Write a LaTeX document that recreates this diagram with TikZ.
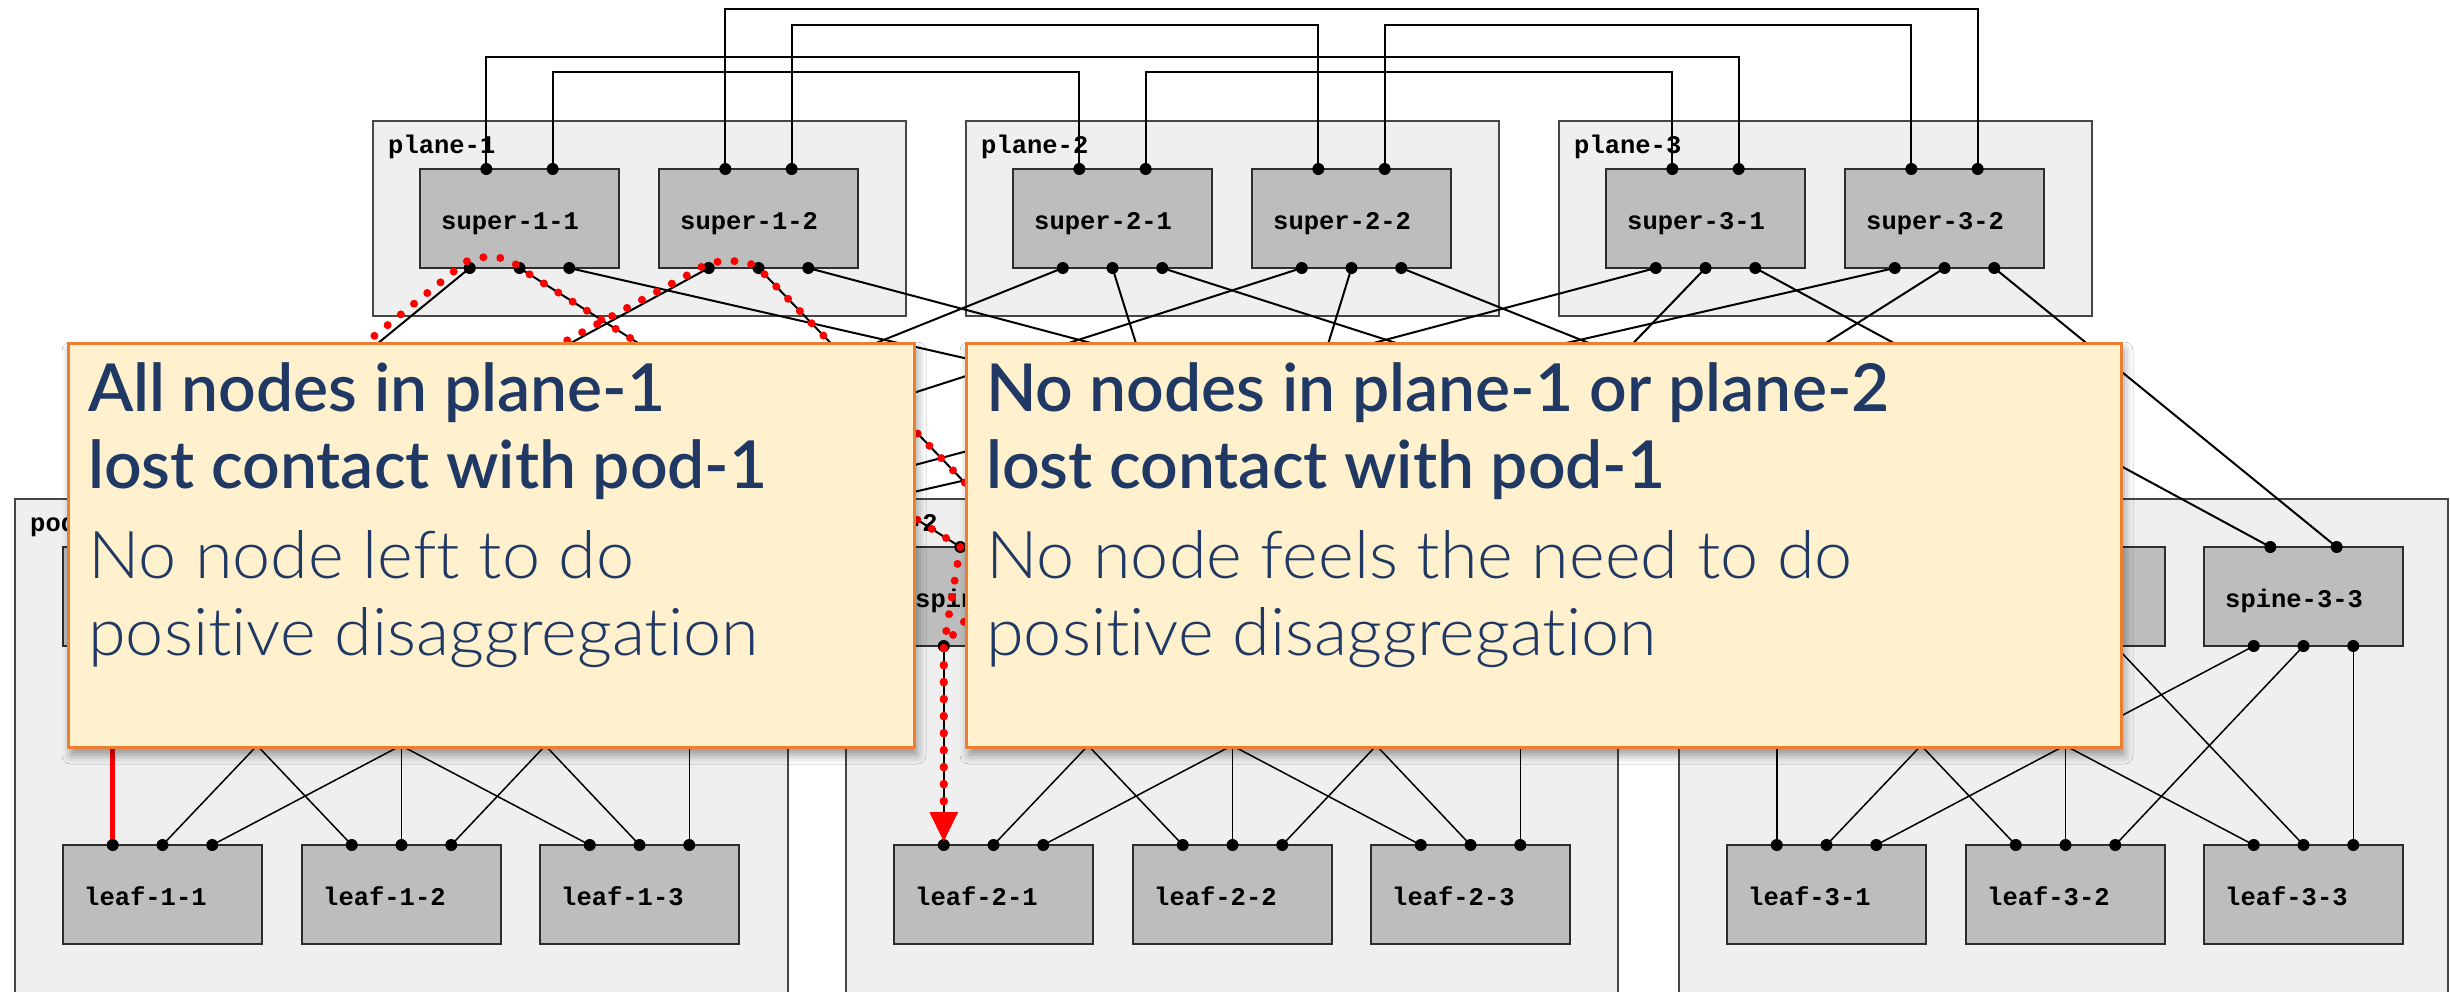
\documentclass[tikz,border=0pt]{standalone}
\usepackage{fontspec}
\setmonofont{Liberation Mono}
\newfontfamily\noteheadfont[Ligatures=NoCommon]{Lato Semibold}
\newfontfamily\notebodyfont[Ligatures=NoCommon,FakeStretch=1.035]{Lato Light}
\usetikzlibrary{calc,arrows.meta,shadows.blur}

\definecolor{boxgray}{RGB}{189,189,189}
\definecolor{areagray}{RGB}{239,239,239}
\definecolor{areaedge}{RGB}{70,70,70}
\definecolor{devedge}{RGB}{45,45,45}
\definecolor{notefill}{RGB}{255,241,206}
\definecolor{noteedge}{RGB}{237,125,49}
\definecolor{notetext}{RGB}{31,56,100}
\definecolor{pathred}{RGB}{255,0,0}

\tikzset{
  area/.style={draw=areaedge, line width=2pt, fill=areagray, anchor=north west,
    inner sep=0pt, outer sep=0pt},
  arealabel/.style={anchor=base west, inner sep=0pt,
    font=\ttfamily\bfseries\fontsize{25.5}{30}\selectfont},
  device/.style={draw=devedge, line width=2pt, fill=boxgray, anchor=north west,
    minimum width=199pt, minimum height=99pt, inner sep=0pt, outer sep=0pt},
  devlabel/.style={arealabel},
  port/.style={fill=black},
  toplink/.style={draw=black, line width=1.8pt},
  uplink/.style={draw=black, line width=2pt},
  podlink/.style={draw=black, line width=1.5pt},
  brokenlink/.style={draw=pathred, line width=5pt},
  reroute/.style={draw=pathred, line width=8pt, line cap=round,
    dash pattern=on 0pt off 17pt},
  note/.style={draw=noteedge, line width=3pt, fill=notefill, anchor=north west,
    inner sep=0pt, outer sep=0pt,
    blur shadow={shadow xshift=3pt, shadow yshift=-8pt,
      shadow blur radius=9pt, shadow opacity=40}},
  notehead/.style={anchor=base west, inner sep=0pt, text=notetext,
    font=\noteheadfont\fontsize{66}{80}\selectfont},
  notebody/.style={anchor=base west, inner sep=0pt, text=notetext,
    font=\notebodyfont\fontsize{66}{78}\selectfont},
}

% label of a device, only when one is given
\newcommand{\devtag}[2]{%
  \if\relax\detokenize{#2}\relax\else
    \node[devlabel] at ($(#1.west)+(21,11)$) {#2};
  \fi}
% label in the top left corner of a plane or pod, only when one is given
\newcommand{\cornertag}[2]{%
  \if\relax\detokenize{#2}\relax\else
    \node[arealabel] at ($(#1.north west)+(15,32)$) {#2};
  \fi}
% switch with two ports on top and three at the bottom (super, spine)
\newcommand{\twoupdev}[4]{%
  \node[device] (#1) at (#2,#3) {};
  \devtag{#1}{#4}%
  \coordinate (#1-t1) at ($(#1.north west)!1/3!(#1.north east)$);
  \coordinate (#1-t2) at ($(#1.north west)!2/3!(#1.north east)$);
  \coordinate (#1-b1) at ($(#1.south west)!0.25!(#1.south east)$);
  \coordinate (#1-b2) at ($(#1.south west)!0.5!(#1.south east)$);
  \coordinate (#1-b3) at ($(#1.south west)!0.75!(#1.south east)$);
}
% leaf switch with three ports on top
\newcommand{\leafdev}[4]{%
  \node[device] (#1) at (#2,#3) {};
  \devtag{#1}{#4}%
  \coordinate (#1-t1) at ($(#1.north west)!0.25!(#1.north east)$);
  \coordinate (#1-t2) at ($(#1.north west)!0.5!(#1.north east)$);
  \coordinate (#1-t3) at ($(#1.north west)!0.75!(#1.north east)$);
}

\begin{document}
\begin{tikzpicture}[x=1pt,y=-1pt]
\useasboundingbox (0,0) rectangle (2450,991);
\fill[white] (0,0) rectangle (2450,991);

% planes with their super spines
\foreach \i/\pl in {1/373,2/966,3/1559}{
  \node[area, minimum width=533pt, minimum height=195pt] (plane\i) at (\pl,121) {};
  \cornertag{plane\i}{plane-\i}
  \twoupdev{s\i1}{\pl+47}{169}{super-\i-1}
  \twoupdev{s\i2}{\pl+286}{169}{super-\i-2}
}

% pods with spines and leaves (labels behind the call-outs are left out)
\foreach \x/\pl/\w/\pname/\la/\lb/\lc in
    {1/15/773/pod-1///, 2/846/772/pod-2/spine-2-1//, 3/1679/769////spine-3-3}{
  \node[area, minimum width=\w pt, minimum height=520pt] (pod\x) at (\pl,499) {};
  \cornertag{pod\x}{\pname}
  \twoupdev{sp\x1}{\pl+48}{547}{\la}
  \twoupdev{sp\x2}{\pl+287}{547}{\lb}
  \twoupdev{sp\x3}{\pl+525}{547}{\lc}
  \leafdev{l\x1}{\pl+48}{845}{leaf-\x-1}
  \leafdev{l\x2}{\pl+287}{845}{leaf-\x-2}
  \leafdev{l\x3}{\pl+525}{845}{leaf-\x-3}
}

% east-west links between the planes
\coordinate (ya) at (0,9);
\coordinate (yb) at (0,25);
\coordinate (yc) at (0,57);
\coordinate (yd) at (0,72);
\draw[toplink] (s11-t1) -- (s11-t1 |- yc) -- (s31-t2 |- yc) -- (s31-t2);
\draw[toplink] (s11-t2) -- (s11-t2 |- yd) -- (s21-t1 |- yd) -- (s21-t1);
\draw[toplink] (s12-t1) -- (s12-t1 |- ya) -- (s32-t2 |- ya) -- (s32-t2);
\draw[toplink] (s12-t2) -- (s12-t2 |- yb) -- (s22-t1 |- yb) -- (s22-t1);
\draw[toplink] (s21-t2) -- (s21-t2 |- yd) -- (s31-t1 |- yd) -- (s31-t1);
\draw[toplink] (s22-t2) -- (s22-t2 |- yb) -- (s32-t1 |- yb) -- (s32-t1);

% super spine to spine links
\foreach \i in {1,2,3}{
  \foreach \k in {1,2}{
    \foreach \x in {1,2,3}{
      \draw[uplink] (s\i\k-b\x) -- (sp\x\i-t\k);
    }
  }
}

% spine to leaf links inside each pod
\foreach \x in {1,2,3}{
  \foreach \i in {1,2,3}{
    \foreach \j in {1,2,3}{
      \draw[podlink] (sp\x\i-b\j) -- (l\x\j-t\i);
    }
  }
}

% failed link
\draw[brokenlink] (sp11-b1) -- (l11-t1);

% ports
\foreach \i in {1,2,3}{
  \foreach \k in {1,2}{
    \foreach \p in {t1,t2,b1,b2,b3}{\fill[port] (s\i\k-\p) circle[radius=6pt];}
  }
}
\foreach \x in {1,2,3}{
  \foreach \i in {1,2,3}{
    \foreach \p in {t1,t2,b1,b2,b3}{\fill[port] (sp\x\i-\p) circle[radius=6pt];}
    \foreach \p in {t1,t2,t3}{\fill[port] (l\x\i-\p) circle[radius=6pt];}
  }
}

% rerouted traffic through plane-1 and pod-2
\coordinate (ra0) at ($(sp11-t1)+(-6,-8)$);
\coordinate (ra1) at ($(s11-b1)+(-14,2)$);
\coordinate (ra2) at ($(s11-b1)+(-4,-14)$);
\coordinate (ra3) at ($(s11-b2)+(-12,-16)$);
\draw[reroute, -{Triangle[width=26pt,length=30pt]}, shorten >=3pt]
  (ra0) -- (ra1) .. controls (ra2) and (ra3) .. (s11-b2)
  -- (sp21-t1) -- (sp21-b1) -- (l21-t1);

\coordinate (rb0) at ($(sp11-t2)+(-2,-4)$);
\coordinate (rb1) at ($(s12-b1)+(-10,1)$);
\coordinate (rb2) at ($(s12-b1)+(0,-9)$);
\coordinate (rb3) at ($(s12-b2)+(-12,-10)$);
\draw[reroute, -{Triangle[width=26pt,length=30pt]}, shorten >=3pt]
  (rb0) -- (rb1) .. controls (rb2) and (rb3) .. (s12-b2)
  -- (sp21-t2) -- (sp21-b1) -- (l21-t1);

% call-outs
\node[note, minimum width=846pt, minimum height=404pt] (noteL) at (68,343) {};
\node[notehead] at ($(noteL.north west)+(20,68)$) {All nodes in plane-1};
\node[notehead] at ($(noteL.north west)+(20,145)$) {lost contact with pod-1};
\node[notebody] at ($(noteL.north west)+(20,235)$) {No node left to do};
\node[notebody] at ($(noteL.north west)+(20,312)$) {positive disaggregation};

\node[note, minimum width=1155pt, minimum height=404pt] (noteR) at (966,343) {};
\node[notehead] at ($(noteR.north west)+(20,68)$) {No nodes in plane-1 or plane-2};
\node[notehead] at ($(noteR.north west)+(20,145)$) {lost contact with pod-1};
\node[notebody] at ($(noteR.north west)+(20,235)$) {No node feels the need to do};
\node[notebody] at ($(noteR.north west)+(20,312)$) {positive disaggregation};
\end{tikzpicture}
\end{document}
